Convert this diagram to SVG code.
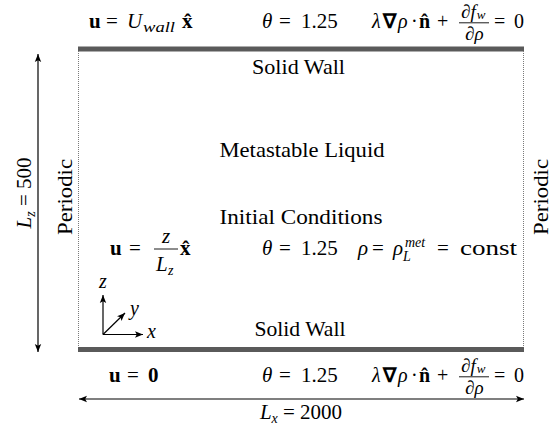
<svg xmlns="http://www.w3.org/2000/svg" width="560" height="429" viewBox="0 0 560 429">
<defs>
<marker id="ah" markerUnits="userSpaceOnUse" markerWidth="9" markerHeight="8" refX="8" refY="4" orient="auto-start-reverse">
<path d="M0,0.8 L8,4 L0,7.2 L1.8,4 z" fill="#000"/>
</marker>
</defs>
<rect width="560" height="429" fill="#fff"/>

<g id="top-wall">
<rect x="78" y="46.5" width="446" height="5" fill="#5a5a5a"/>
<text font-family="Liberation Serif" font-size="21" x="298.5" y="74" text-anchor="middle" textLength="93" lengthAdjust="spacingAndGlyphs">Solid Wall</text>
</g>
<g id="bottom-wall">
<rect x="78" y="347" width="446" height="5" fill="#5a5a5a"/>
<text font-family="Liberation Serif" font-size="21" x="300" y="336" text-anchor="middle" textLength="91" lengthAdjust="spacingAndGlyphs">Solid Wall</text>
</g>
<g id="left-periodic">
<line x1="78.5" y1="51" x2="78.5" y2="347" stroke="#7a7a7a" stroke-width="1" stroke-dasharray="1 1"/>
<text font-family="Liberation Serif" font-size="21" transform="translate(72,197) rotate(-90)" text-anchor="middle" textLength="76" lengthAdjust="spacingAndGlyphs">Periodic</text>
</g>
<g id="right-periodic">
<line x1="523.5" y1="51" x2="523.5" y2="347" stroke="#7a7a7a" stroke-width="1" stroke-dasharray="1 1"/>
<text font-family="Liberation Serif" font-size="21" transform="translate(548,197) rotate(-90)" text-anchor="middle" textLength="76" lengthAdjust="spacingAndGlyphs">Periodic</text>
</g>
<g id="domain">
<text font-family="Liberation Serif" font-size="21" x="302" y="157" text-anchor="middle" textLength="165" lengthAdjust="spacingAndGlyphs">Metastable Liquid</text>
<text font-family="Liberation Serif" font-size="21" x="301" y="224" text-anchor="middle" textLength="163" lengthAdjust="spacingAndGlyphs">Initial Conditions</text>
</g>

<g id="top-bc">
<text font-family="Liberation Serif" font-size="21" font-weight="bold" x="89" y="28">u</text>
<text font-family="Liberation Serif" font-size="21" x="106" y="28">=</text>
<text font-family="Liberation Serif" font-size="21" font-style="italic" x="127" y="28">U</text>
<text font-family="Liberation Serif" font-size="14" font-style="italic" x="143" y="32" textLength="32" lengthAdjust="spacingAndGlyphs">wall</text>
<text font-family="Liberation Serif" font-size="21" font-weight="bold" x="182" y="28">x̂</text>
<text font-family="Liberation Serif" font-size="21" font-style="italic" x="262" y="28">θ</text>
<text font-family="Liberation Serif" font-size="21" x="279" y="28">=</text>
<text font-family="Liberation Serif" font-size="21" x="301" y="28">1.25</text>
<text font-family="Liberation Serif" font-size="20" font-style="italic" x="372" y="28">λ</text>
<text font-family="Liberation Serif" font-size="20" font-weight="bold" x="383" y="28">∇</text>
<text font-family="Liberation Serif" font-size="20" font-style="italic" x="398" y="28">ρ</text>
<text font-family="Liberation Serif" font-size="20" x="411" y="28">·</text>
<text font-family="Liberation Serif" font-size="20" font-weight="bold" x="419" y="28">n̂</text>
<text font-family="Liberation Serif" font-size="20" x="437" y="28">+</text>
<text font-family="Liberation Serif" font-size="19" x="461" y="17.5">∂<tspan font-style="italic">f</tspan><tspan font-style="italic" font-size="13" dx="1" dy="1.5">w</tspan></text>
<line x1="459" y1="22.8" x2="489" y2="22.8" stroke="#000" stroke-width="0.9"/>
<text font-family="Liberation Serif" font-size="19" x="465" y="40">∂<tspan font-style="italic">ρ</tspan></text>
<text font-family="Liberation Serif" font-size="20" x="494" y="28">=</text>
<text font-family="Liberation Serif" font-size="20" x="514" y="28">0</text>
</g>

<g id="initial-conditions">
<text font-family="Liberation Serif" font-size="21" font-weight="bold" x="110" y="255">u</text>
<text font-family="Liberation Serif" font-size="21" x="129" y="255">=</text>
<text font-family="Liberation Serif" font-size="21" font-style="italic" x="166" y="243" text-anchor="middle">z</text>
<line x1="154" y1="249" x2="178" y2="249" stroke="#000" stroke-width="0.9"/>
<text font-family="Liberation Serif" font-size="21" font-style="italic" x="156" y="271">L</text>
<text font-family="Liberation Serif" font-size="14" font-style="italic" x="168" y="275">z</text>
<text font-family="Liberation Serif" font-size="21" font-weight="bold" x="180" y="255">x̂</text>
<text font-family="Liberation Serif" font-size="21" font-style="italic" x="262" y="255">θ</text>
<text font-family="Liberation Serif" font-size="21" x="279" y="255">=</text>
<text font-family="Liberation Serif" font-size="21" x="301" y="255">1.25</text>
<text font-family="Liberation Serif" font-size="21" font-style="italic" x="358" y="255">ρ</text>
<text font-family="Liberation Serif" font-size="21" x="372" y="255">=</text>
<text font-family="Liberation Serif" font-size="21" font-style="italic" x="393" y="255">ρ</text>
<text font-family="Liberation Serif" font-size="14" font-style="italic" x="405" y="247">met</text>
<text font-family="Liberation Serif" font-size="14" font-style="italic" x="403" y="261">L</text>
<text font-family="Liberation Serif" font-size="21" x="437" y="255">=</text>
<text font-family="Liberation Serif" font-size="21" x="460" y="255" textLength="57" lengthAdjust="spacingAndGlyphs">const</text>
</g>

<g id="bottom-bc">
<text font-family="Liberation Serif" font-size="21" font-weight="bold" x="109" y="382">u</text>
<text font-family="Liberation Serif" font-size="21" x="127" y="382">=</text>
<text font-family="Liberation Serif" font-size="21" font-weight="bold" x="148" y="382">0</text>
<text font-family="Liberation Serif" font-size="21" font-style="italic" x="262" y="382">θ</text>
<text font-family="Liberation Serif" font-size="21" x="279" y="382">=</text>
<text font-family="Liberation Serif" font-size="21" x="301" y="382">1.25</text>
<text font-family="Liberation Serif" font-size="20" font-style="italic" x="372" y="382">λ</text>
<text font-family="Liberation Serif" font-size="20" font-weight="bold" x="383" y="382">∇</text>
<text font-family="Liberation Serif" font-size="20" font-style="italic" x="398" y="382">ρ</text>
<text font-family="Liberation Serif" font-size="20" x="411" y="382">·</text>
<text font-family="Liberation Serif" font-size="20" font-weight="bold" x="419" y="382">n̂</text>
<text font-family="Liberation Serif" font-size="20" x="437" y="382">+</text>
<text font-family="Liberation Serif" font-size="19" x="461" y="371.5">∂<tspan font-style="italic">f</tspan><tspan font-style="italic" font-size="13" dx="1" dy="1.5">w</tspan></text>
<line x1="459" y1="376.8" x2="489" y2="376.8" stroke="#000" stroke-width="0.9"/>
<text font-family="Liberation Serif" font-size="19" x="465" y="394">∂<tspan font-style="italic">ρ</tspan></text>
<text font-family="Liberation Serif" font-size="20" x="494" y="382">=</text>
<text font-family="Liberation Serif" font-size="20" x="514" y="382">0</text>
</g>

<g id="axes">
<text font-family="Liberation Serif" font-size="20" font-style="italic" x="99" y="288">z</text>
<text font-family="Liberation Serif" font-size="20" font-style="italic" x="130" y="315">y</text>
<text font-family="Liberation Serif" font-size="20" font-style="italic" x="147" y="338">x</text>
</g>

<g id="dimensions">
<text font-family="Liberation Serif" font-size="21" transform="translate(31,193) rotate(-90)" text-anchor="middle"><tspan font-style="italic">L</tspan><tspan font-style="italic" font-size="14" dy="4">z</tspan><tspan dy="-4"> = 500</tspan></text>
<text font-family="Liberation Serif" font-size="21" x="301" y="419" text-anchor="middle"><tspan font-style="italic">L</tspan><tspan font-style="italic" font-size="14" dy="4">x</tspan><tspan dy="-4"> = 2000</tspan></text>
</g>

<g id="connectors" stroke="#000" stroke-width="1.2" fill="none">
<line x1="38" y1="54" x2="38" y2="352" marker-start="url(#ah)" marker-end="url(#ah)"/>
<line x1="79" y1="399" x2="524" y2="399" marker-start="url(#ah)" marker-end="url(#ah)"/>
<line x1="103" y1="334.5" x2="103" y2="295" marker-end="url(#ah)"/>
<line x1="103" y1="334.5" x2="143" y2="334.5" marker-end="url(#ah)"/>
<line x1="103" y1="334.5" x2="125" y2="313" marker-end="url(#ah)"/>
</g>
</svg>
